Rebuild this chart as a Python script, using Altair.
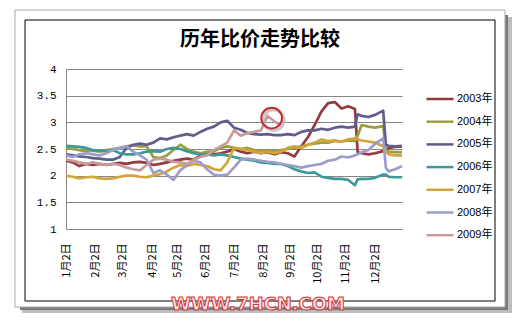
import altair as alt
import pandas as pd

# trading-day index of each sample (x axis runs from 1月2日 to year end)
days = list(range(0, 216, 5)) + [217, 220, 225, 230, 236, 238, 240, 245, 250]

v2003 = [2.28, 2.25, 2.18, 2.22, 2.20, 2.22, 2.20, 2.22, 2.24, 2.22,
         2.25, 2.26, 2.24, 2.20, 2.22, 2.25, 2.28, 2.30, 2.32, 2.30,
         2.38, 2.40, 2.40, 2.42, 2.45, 2.50, 2.45, 2.42, 2.45, 2.42,
         2.44, 2.40, 2.44, 2.42, 2.36, 2.55, 2.72, 2.95, 3.20, 3.36,
         3.38, 3.26, 3.30, 3.25, 2.44, 2.42, 2.40, 2.42, 2.46, 2.48,
         2.52, 2.54, 2.55]
v2004 = [2.52, 2.50, 2.48, 2.46, 2.47, 2.45, 2.48, 2.50, 2.52, 2.55,
         2.57, 2.55, 2.55, 2.35, 2.33, 2.38, 2.48, 2.58, 2.50, 2.45,
         2.42, 2.45, 2.45, 2.52, 2.55, 2.52, 2.50, 2.52, 2.48, 2.45,
         2.48, 2.45, 2.48, 2.50, 2.52, 2.55, 2.58, 2.60, 2.62, 2.62,
         2.65, 2.64, 2.66, 2.65, 2.75, 2.95, 2.92, 2.90, 2.93, 2.48,
         2.45, 2.44, 2.44]
v2005 = [2.40, 2.38, 2.36, 2.35, 2.33, 2.32, 2.30, 2.30, 2.35, 2.52,
         2.58, 2.60, 2.58, 2.62, 2.70, 2.68, 2.72, 2.75, 2.78, 2.75,
         2.82, 2.88, 2.92, 3.00, 3.03, 2.90, 2.86, 2.80, 2.78, 2.77,
         2.78, 2.76, 2.76, 2.78, 2.76, 2.82, 2.85, 2.85, 2.88, 2.86,
         2.90, 2.92, 2.90, 2.92, 3.15, 3.12, 3.10, 3.14, 3.22, 2.58,
         2.56, 2.55, 2.56]
v2006 = [2.56, 2.55, 2.54, 2.52, 2.48, 2.47, 2.46, 2.48, 2.42, 2.40,
         2.40, 2.42, 2.45, 2.46, 2.45, 2.50, 2.52, 2.50, 2.46, 2.42,
         2.40, 2.40, 2.38, 2.40, 2.38, 2.35, 2.32, 2.30, 2.28, 2.25,
         2.24, 2.22, 2.22, 2.18, 2.12, 2.08, 2.05, 2.06, 1.98, 1.96,
         1.94, 1.94, 1.92, 1.82, 1.93, 1.94, 1.94, 1.96, 2.02, 2.02,
         1.98, 1.97, 1.97]
v2007 = [2.00, 1.98, 1.95, 1.97, 1.98, 1.95, 1.94, 1.95, 1.98, 2.00,
         2.00, 1.98, 1.97, 2.00, 2.03, 2.08, 2.15, 2.20, 2.18, 2.22,
         2.20, 2.18, 2.12, 2.10, 2.25, 2.52, 2.50, 2.48, 2.45, 2.42,
         2.45, 2.42, 2.45, 2.52, 2.55, 2.52, 2.58, 2.62, 2.68, 2.65,
         2.66, 2.64, 2.68, 2.70, 2.68, 2.66, 2.64, 2.62, 2.55, 2.45,
         2.40, 2.38, 2.38]
v2008 = [2.38, 2.35, 2.40, 2.42, 2.40, 2.38, 2.42, 2.48, 2.52, 2.55,
         2.45, 2.38, 2.30, 2.05, 2.10, 2.02, 1.92, 2.10, 2.20, 2.28,
         2.25, 2.12, 2.02, 2.00, 2.02, 2.15, 2.30, 2.32, 2.30, 2.28,
         2.26, 2.25, 2.22, 2.20, 2.18, 2.15, 2.18, 2.20, 2.22, 2.28,
         2.30, 2.36, 2.34, 2.38, 2.40, 2.44, 2.48, 2.60, 2.70, 2.15,
         2.08, 2.12, 2.18]
v2009 = [2.30, 2.28, 2.25, 2.22, 2.25, 2.22, 2.20, 2.22, 2.20, 2.15,
         2.12, 2.10, 2.20, 2.30, 2.32, 2.30, 2.26, 2.25, 2.22, 2.30,
         2.35, 2.38, 2.48, 2.55, 2.62, 2.85, 2.75, 2.80, 2.82, 2.85,
         3.12, 3.02, 2.94]

series_names = ["2003年", "2004年", "2005年", "2006年", "2007年", "2008年", "2009年"]
series_colors = ["#953a3e", "#9aa040", "#615c8e", "#3b9a98", "#d4a43c", "#9d9dcc", "#c99c9c"]
series_values = [v2003, v2004, v2005, v2006, v2007, v2008, v2009]

tick_days = [0, 22, 42, 64, 83, 104, 125, 147, 167, 187, 208, 230]
tick_labels = ["1月2日", "2月2日", "3月2日", "4月2日", "5月2日", "6月2日",
               "7月2日", "8月2日", "9月2日", "10月2日", "11月2日", "12月2日"]
y_ticks = [1, 1.5, 2, 2.5, 3, 3.5, 4]

circle_day = [153]
circle_value = [3.08]

title_text = "历年比价走势比较"
watermark_text = "WWW.7HCN.COM"

rows = []
for name, vals in zip(series_names, series_values):
    for d, v in zip(days, vals):
        rows.append({"day": d, "value": v, "series": name})
df = pd.DataFrame(rows)

label_expr = ("[" + ",".join("'%s'" % t for t in tick_labels) + "][indexof(["
              + ",".join(str(d) for d in tick_days) + "], datum.value)]")

W, H = 336, 160
OX, OY = 66, 69  # plot origin in the page

x_scale = alt.Scale(domain=[0, 250], nice=False, zero=False)
y_scale = alt.Scale(domain=[1, 4], nice=False, zero=False)

x_axis = alt.Axis(values=tick_days, labelExpr=label_expr, labelAngle=-90,
                  title=None, grid=False, ticks=False, labelPadding=14,
                  labelFont="Noto Sans CJK SC", labelFontSize=11,
                  labelColor="#000000", domainColor="#868686",
                  labelOverlap=False, labelBound=False, labelFlush=False)
y_axis = alt.Axis(values=y_ticks, format="~g", title=None, ticks=False,
                  labelPadding=10, grid=True, gridColor="#868686",
                  domainColor="#868686", labelFont="Liberation Mono",
                  labelFontSize=11, labelColor="#000000", labelOverlap=False,
                  labelFlush=False)

one = pd.DataFrame({"a": [0]})


def box(x1, y1, x2, y2, **kw):
    return alt.Chart(one).mark_rect(**kw).encode(
        x=alt.value(x1 - OX), x2=alt.value(x2 - OX),
        y=alt.value(y1 - OY), y2=alt.value(y2 - OY))


shadow = [
    box(505, 15, 508, 310, fill="#7a7a7a", strokeWidth=0),
    box(508, 17, 512, 313, fill="#bdbdbd", strokeWidth=0),
    box(20, 307, 508, 310, fill="#7a7a7a", strokeWidth=0),
    box(22, 310, 512, 313, fill="#bdbdbd", strokeWidth=0),
]
outer = box(15, 10, 505, 307, fillOpacity=0, stroke="#a8a8a8", strokeWidth=1)
inner = box(25, 20, 495, 301, fillOpacity=0, stroke="#000000", strokeWidth=1)

lines = alt.Chart(df).mark_line(strokeWidth=2.7, strokeJoin="round").encode(
    x=alt.X("day:Q", scale=x_scale, axis=x_axis),
    y=alt.Y("value:Q", scale=y_scale, axis=y_axis),
    color=alt.Color("series:N",
                    scale=alt.Scale(domain=series_names, range=series_colors),
                    sort=series_names,
                    legend=alt.Legend(title=None, orient="none", legendX=359, legendY=15,
                                      symbolType="stroke", symbolSize=729,
                                      symbolStrokeWidth=2.5, labelFontSize=11,
                                      labelFont="Liberation Sans, Noto Sans CJK SC",
                                      labelColor="#000000", rowPadding=2.7,
                                      labelOffset=2, padding=0)),
)

circ_df = pd.DataFrame({"day": circle_day, "value": circle_value})
circle_shadow = alt.Chart(circ_df).mark_point(
    shape="circle", size=430, filled=False, stroke="#bcbcbc", strokeWidth=3,
    opacity=0.8, xOffset=2, yOffset=2).encode(
    x=alt.X("day:Q", scale=x_scale, axis=x_axis),
    y=alt.Y("value:Q", scale=y_scale, axis=y_axis))
circle = alt.Chart(circ_df).mark_point(
    shape="circle", size=430, filled=False, stroke="#c8282c", strokeWidth=2,
    opacity=1).encode(
    x=alt.X("day:Q", scale=x_scale, axis=x_axis),
    y=alt.Y("value:Q", scale=y_scale, axis=y_axis))

title = alt.Chart(one).mark_text(
    text=title_text, font="Noto Sans CJK SC", fontWeight="bold", fontSize=20,
    color="#000000", baseline="middle", align="center").encode(
    x=alt.value(260 - OX), y=alt.value(40 - OY))

watermark = alt.Chart(one).mark_text(
    text=watermark_text, font="DejaVu Sans", fontWeight="bold", fontSize=18,
    fill="#fbe0e0", stroke="#d03838", strokeWidth=1, baseline="middle",
    align="center").encode(x=alt.value(258 - OX), y=alt.value(305 - OY))

chart = alt.layer(*shadow, outer, inner, lines, circle_shadow, circle, title,
                  watermark).properties(
    width=W, height=H,
    autosize=alt.AutoSizeParams(type="none"),
    padding={"left": OX, "top": OY, "right": 520 - OX - W, "bottom": 332 - OY - H},
    background="#ffffff",
).configure_view(strokeWidth=0).configure_axis(labelOverlap=False)

chart.save("out.html", embed_options={"renderer": "svg", "actions": False})
